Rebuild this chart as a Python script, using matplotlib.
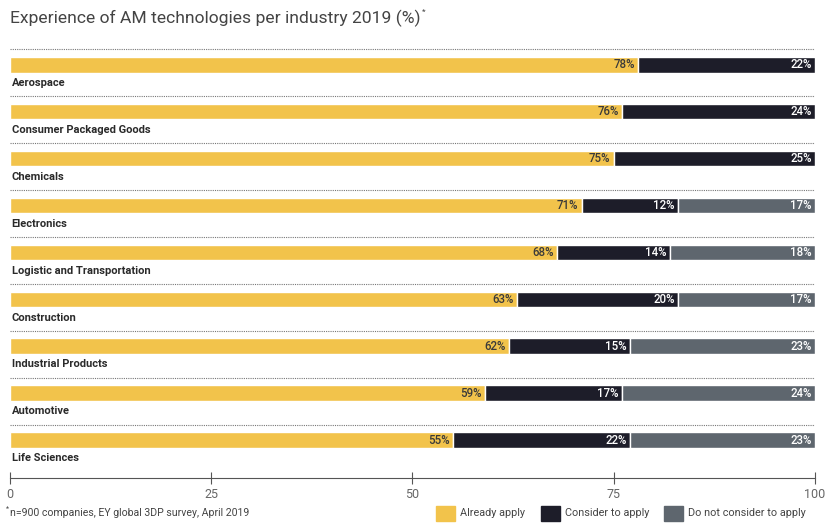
import matplotlib
matplotlib.use("Agg")
import matplotlib.pyplot as plt

plt.rcParams['font.family'] = ['Roboto', 'DejaVu Sans']

industries = ["Aerospace", "Consumer Packaged Goods", "Chemicals", "Electronics",
              "Logistic and Transportation", "Construction", "Industrial Products",
              "Automotive", "Life Sciences"]
already = [78, 76, 75, 71, 68, 63, 62, 59, 55]
consider = [22, 24, 25, 12, 14, 20, 15, 17, 22]
not_consider = [0, 0, 0, 17, 18, 17, 23, 24, 23]
series_names = ["Already apply", "Consider to apply", "Do not consider to apply"]
ticks = [0, 25, 50, 75, 100]

colors = ["#F2C34B", "#1D1D29", "#5E666E"]
text_colors = ["#3a3a3a", "white", "white"]

fig = plt.figure(figsize=(8.28, 5.23), dpi=100)
ax = fig.add_axes([10/828, (523-478)/523, (815-10)/828, (478-46)/523])

n = len(industries)
ys = list(range(n))
bh = 0.33
series = [already, consider, not_consider]
for i, y in enumerate(ys):
    left = 0
    for s, vals in enumerate(series):
        v = vals[i]
        if v > 0:
            ax.barh(y, v, left=left, height=bh, color=colors[s],
                    edgecolor='white', linewidth=1.0)
            ax.text(left + v - 0.4, y, f"{v}%", ha='right', va='center',
                    fontsize=8.3, color=text_colors[s], fontweight='medium')
        left += v
    ax.text(0.2, y + 0.39, industries[i], ha='left', va='center', fontsize=8,
            fontweight='bold', color='#2a2a2a')
    ax.axhline(y - 0.33, color='#777777', linestyle=(0, (1, 1)), linewidth=0.8)

ax.set_xlim(0, 100)
ax.set_ylim(n - 1 + 0.81, -0.4)
for sp in ['top', 'right', 'left']:
    ax.spines[sp].set_visible(False)
ax.spines['bottom'].set_color('#555555')
ax.spines['bottom'].set_linewidth(0.8)
ax.set_yticks([])
ax.set_xticks(ticks)
ax.tick_params(axis='x', direction='inout', length=8, width=0.8, colors='#555555',
               labelsize=9, labelcolor='#666666', pad=3)

t = fig.text(10/828, 1 - 18/523, "Experience of AM technologies per industry 2019 (%)",
             fontsize=12.6, color='#444444', va='center', ha='left')
fig.canvas.draw()
bb = t.get_window_extent()
fig.text(bb.x1 / 828 + 1/828, 1 - 12/523, "*", fontsize=6, color='#444444',
         va='center', ha='left')
fig.text(10/828, 1 - 513/523, "n=900 companies, EY global 3DP survey, April 2019",
         fontsize=7.6, color='#444444', va='center', ha='left')
fig.text(6/828, 1 - 509/523, "*", fontsize=5, color='#444444', va='center', ha='left')

# legend
lx = [436, 541, 664]
for s in range(3):
    fig.patches.append(plt.Rectangle((lx[s]/828, 1 - 521/523), 19/828, 15/523,
                                     transform=fig.transFigure, color=colors[s]))
    fig.text((lx[s] + 24)/828, 1 - 513/523, series_names[s], fontsize=7.8,
             color='#444444', va='center', ha='left')

fig.savefig("out.png", dpi=100)
